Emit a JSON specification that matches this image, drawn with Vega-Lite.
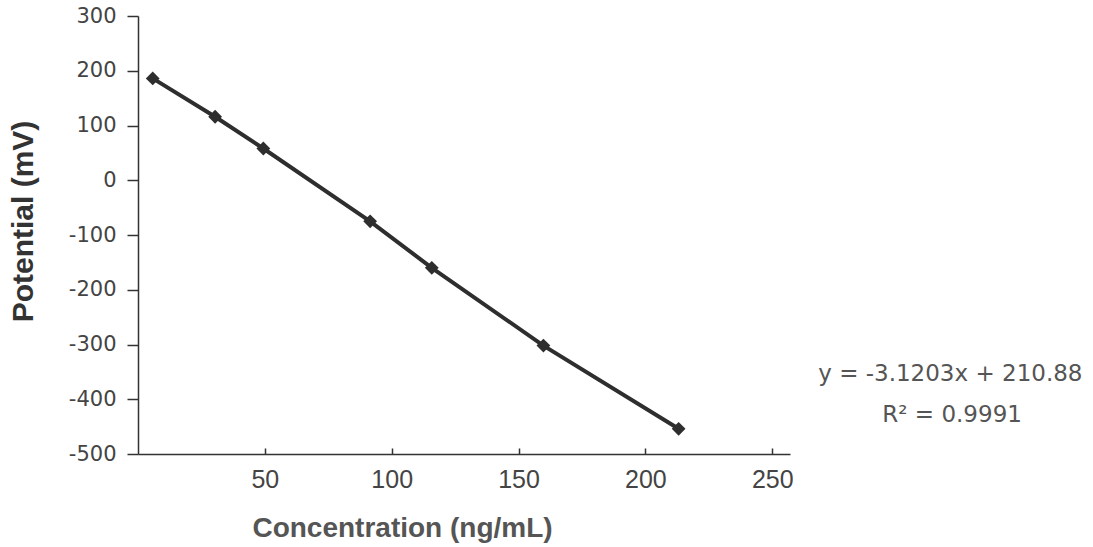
{
  "$schema": "https://vega.github.io/schema/vega-lite/v6.json",
  "width": 652,
  "height": 438,
  "autosize": "none",
  "padding": {"left": 138, "top": 16, "right": 303, "bottom": 93},
  "background": "white",
  "config": {"view": {"stroke": null}},
  "datasets": {
    "points": [
      {"conc": 5.8, "potential": 186},
      {"conc": 30.4, "potential": 116},
      {"conc": 49.4, "potential": 58},
      {"conc": 91.5, "potential": -75},
      {"conc": 115.8, "potential": -160},
      {"conc": 159.8, "potential": -302},
      {"conc": 213.1, "potential": -454}
    ],
    "annotation": [
      {"x": 320.2, "y": -354, "label": "y = -3.1203x + 210.88"},
      {"x": 320.9, "y": -429, "label": "R² = 0.9991"}
    ]
  },
  "layer": [
    {
      "data": {"name": "points"},
      "mark": {
        "type": "line",
        "color": "#2e2e2e",
        "strokeWidth": 4,
        "point": {"shape": "diamond", "size": 190, "filled": true, "color": "#2e2e2e"}
      },
      "encoding": {
        "x": {
          "field": "conc",
          "type": "quantitative",
          "scale": {"domain": [0, 257], "nice": false, "zero": false},
          "axis": {
            "values": [50, 100, 150, 200, 250],
            "grid": false,
            "domainColor": "#333",
            "domainWidth": 1.5,
            "tickColor": "#333",
            "tickWidth": 1.5,
            "tickSize": -6,
            "labelPadding": 19,
            "labelFont": "Liberation Sans",
            "labelFontSize": 25,
            "labelColor": "#444",
            "title": "Concentration (ng/mL)",
            "titleFont": "Liberation Sans",
            "titleFontSize": 28,
            "titleFontWeight": "bold",
            "titleColor": "#555",
            "titlePadding": 22,
            "titleX": 264
          }
        },
        "y": {
          "field": "potential",
          "type": "quantitative",
          "scale": {"domain": [-500, 300], "nice": false, "zero": false},
          "axis": {
            "values": [-500, -400, -300, -200, -100, 0, 100, 200, 300],
            "labelExpr": "datum.value + ''",
            "grid": false,
            "domainColor": "#333",
            "domainWidth": 1.5,
            "tickColor": "#333",
            "tickWidth": 1.5,
            "tickSize": 11,
            "labelPadding": 11,
            "labelFont": "DejaVu Sans",
            "labelFontSize": 21,
            "labelColor": "#444",
            "title": "Potential (mV)",
            "titleFont": "Liberation Sans",
            "titleFontSize": 30,
            "titleFontWeight": "bold",
            "titleColor": "#333",
            "titlePadding": 30,
            "titleY": 205
          }
        }
      }
    },
    {
      "data": {"name": "annotation"},
      "mark": {"type": "text", "font": "DejaVu Sans", "fontSize": 23, "color": "#555", "align": "center", "baseline": "middle"},
      "encoding": {
        "x": {"field": "x", "type": "quantitative"},
        "y": {"field": "y", "type": "quantitative"},
        "text": {"field": "label"}
      }
    }
  ]
}
